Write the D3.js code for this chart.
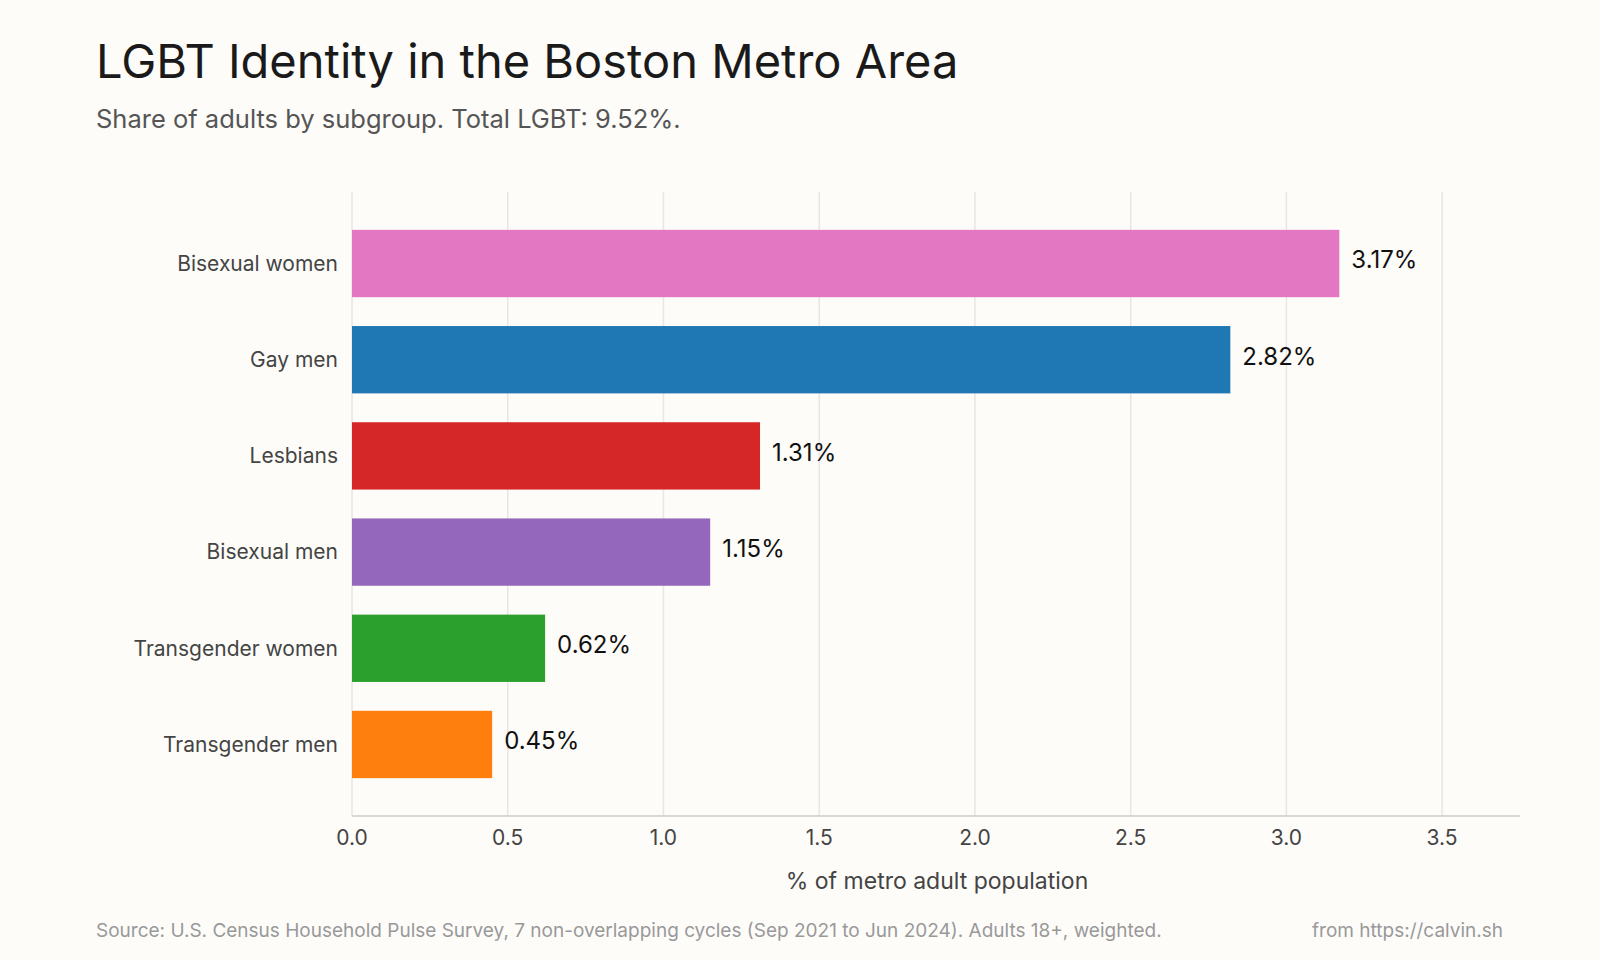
<!DOCTYPE html>
<html><head><meta charset="utf-8">
<script src="https://cdn.jsdelivr.net/npm/d3@7"></script>
<style>body{margin:0;background:#fdfcf9;font-family:Inter,"Noto Sans",sans-serif}</style>
</head><body>
<script>
var groups = ['Bisexual women','Gay men','Lesbians','Bisexual men','Transgender women','Transgender men'];
var values = [3.17, 2.82, 1.31, 1.15, 0.62, 0.45];
var colors = ['#e377c2','#1f77b4','#d62728','#9467bd','#2ca02c','#ff7f0e'];
var ticks = [0,0.5,1,1.5,2,2.5,3,3.5];

var svg = d3.select('body').append('svg').attr('width',1600).attr('height',960)
  .style('background','#fdfcf9');

var x = d3.scaleLinear().domain([0,3.75]).range([352,1520]);
var y = d3.scaleBand().domain(groups).range([201,807]).padding(0.3);

svg.append('text').attr('x',96).attr('y',78).text('LGBT Identity in the Boston Metro Area')
  .style('font-size','47px').style('fill','#1a1a1a');
svg.append('text').attr('x',96).attr('y',128).text('Share of adults by subgroup. Total LGBT: 9.52%.')
  .style('font-size','25.5px').style('fill','#555');

svg.selectAll('.grid').data(ticks).enter().append('line')
  .attr('x1',x).attr('x2',x).attr('y1',192).attr('y2',816)
  .style('stroke','#e6e6e6').style('stroke-width',1.5);

svg.selectAll('.bar').data(values).enter().append('rect')
  .attr('x',x(0)).attr('y',function(d,i){return y(groups[i]);})
  .attr('width',function(d){return x(d)-x(0);}).attr('height',y.bandwidth())
  .style('fill',function(d,i){return colors[i];});

svg.selectAll('.val').data(values).enter().append('text')
  .attr('x',function(d){return x(d)+12;})
  .attr('y',function(d,i){return y(groups[i])+y.bandwidth()/2;})
  .attr('dy','0.2em')
  .text(function(d){return d.toFixed(2)+'%';})
  .style('font-size','24px').style('fill','#111');

svg.selectAll('.cat').data(groups).enter().append('text')
  .attr('x',338).attr('y',function(d){return y(d)+y.bandwidth()/2;})
  .attr('dy','0.35em').attr('text-anchor','end').text(function(d){return d;})
  .style('font-size','21px').style('fill','#444');

svg.append('line').attr('x1',352).attr('x2',1520).attr('y1',816).attr('y2',816)
  .style('stroke','#ccc').style('stroke-width',1.5);

svg.selectAll('.tick').data(ticks).enter().append('text')
  .attr('x',x).attr('y',845).attr('text-anchor','middle')
  .text(function(d){return d.toFixed(1);})
  .style('font-size','21px').style('fill','#444');

svg.append('text').attr('x',937).attr('y',889).attr('text-anchor','middle')
  .text('% of metro adult population').style('font-size','23px').style('fill','#444');

svg.append('text').attr('x',96).attr('y',937)
  .text('Source: U.S. Census Household Pulse Survey, 7 non-overlapping cycles (Sep 2021 to Jun 2024). Adults 18+, weighted.')
  .style('font-size','19px').style('fill','#999');
svg.append('text').attr('x',1503).attr('y',937).attr('text-anchor','end')
  .text('from https://calvin.sh').style('font-size','19px').style('fill','#999');
</script>
</body></html>
